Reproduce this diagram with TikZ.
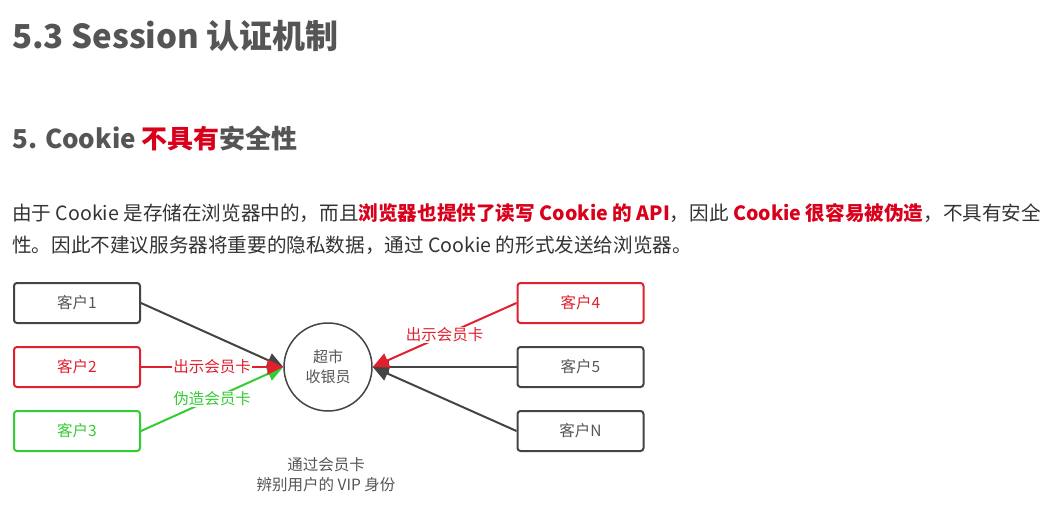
\documentclass[tikz,border=0pt]{standalone}
\usepackage{fontspec}
\setmainfont{Noto Sans CJK SC}
\usetikzlibrary{arrows.meta}
\definecolor{txt}{HTML}{333333}
\definecolor{hd}{HTML}{555555}
\definecolor{rd}{HTML}{D9001B}
\definecolor{bx}{HTML}{444444}
\definecolor{gr}{HTML}{33CC33}
\definecolor{lbl}{HTML}{555555}
\definecolor{crd}{HTML}{E0202F}
\begin{document}
\begin{tikzpicture}[x=1pt,y=-1pt,
  client/.style={draw=bx, rounded corners=3pt, line width=2pt, minimum width=126pt, minimum height=40pt, inner sep=0pt, font=\fontsize{15.5}{18}\selectfont, text=lbl},
  redclient/.style={client, draw=crd, text=crd},
  greenclient/.style={client, draw=gr, text=gr},
  conn/.style={line width=2pt, -{Triangle[length=16pt,width=15pt]}},
  lab/.style={fill=white, inner sep=1pt, font=\fontsize{15.5}{18}\selectfont}
]
\useasboundingbox[fill=white] (0,0) rectangle (1050,511);

\node[anchor=base west, text=hd, font=\fontsize{33}{36}\selectfont\bfseries, inner sep=0pt] (title) at (12,49) {5.3 Session 认证机制};
\node[anchor=base west, text=hd, font=\fontsize{26}{29}\selectfont\bfseries, inner sep=0pt] (sub) at (12,148) {5. Cookie \textcolor{rd}{不具有}安全性};
\node[anchor=base west, text=txt, font=\fontsize{19.6}{22}\selectfont, inner sep=0pt] (p1) at (12,220) {由于 Cookie 是存储在浏览器中的，而且\textcolor{rd}{\bfseries 浏览器也提供了读写 Cookie 的 API}，因此 \textcolor{rd}{\bfseries Cookie 很容易被伪造}，不具有安全};
\node[anchor=base west, text=txt, font=\fontsize{19.6}{22}\selectfont, inner sep=0pt] (p2) at (12,252) {性。因此不建议服务器将重要的隐私数据，通过 Cookie 的形式发送给浏览器。};

\node[client] (c1) at (77,303) {客户1};
\node[redclient] (c2) at (77,367) {客户2};
\node[greenclient] (c3) at (77,431) {客户3};
\node[redclient] (c4) at (580.5,303) {客户4};
\node[client] (c5) at (580.5,367) {客户5};
\node[client] (cn) at (580.5,431) {客户N};

\node[circle, draw=bx, line width=1.5pt, minimum size=88pt, inner sep=0pt, align=center, text=lbl, font=\fontsize{15}{20}\selectfont] (cash) at (328,367) {超市\\收银员};

\draw[conn, bx] (c1.east) -- (cash.west);
\draw[conn, gr] (c3.east) -- node[lab, text=gr] {伪造会员卡} (cash.west);
\draw[conn, crd] (c2.east) -- node[lab, text=crd] {出示会员卡} (cash.west);
\draw[conn, bx] (cn.west) -- (cash.east);
\draw[conn, bx] (c5.west) -- (cash.east);
\draw[conn, crd] (c4.west) -- node[lab, text=crd] {出示会员卡} (cash.east);

\node[align=center, text=lbl, font=\fontsize{15.5}{20}\selectfont] (note) at (326,475) {通过会员卡\\辨别用户的 VIP 身份};
\end{tikzpicture}
\end{document}
